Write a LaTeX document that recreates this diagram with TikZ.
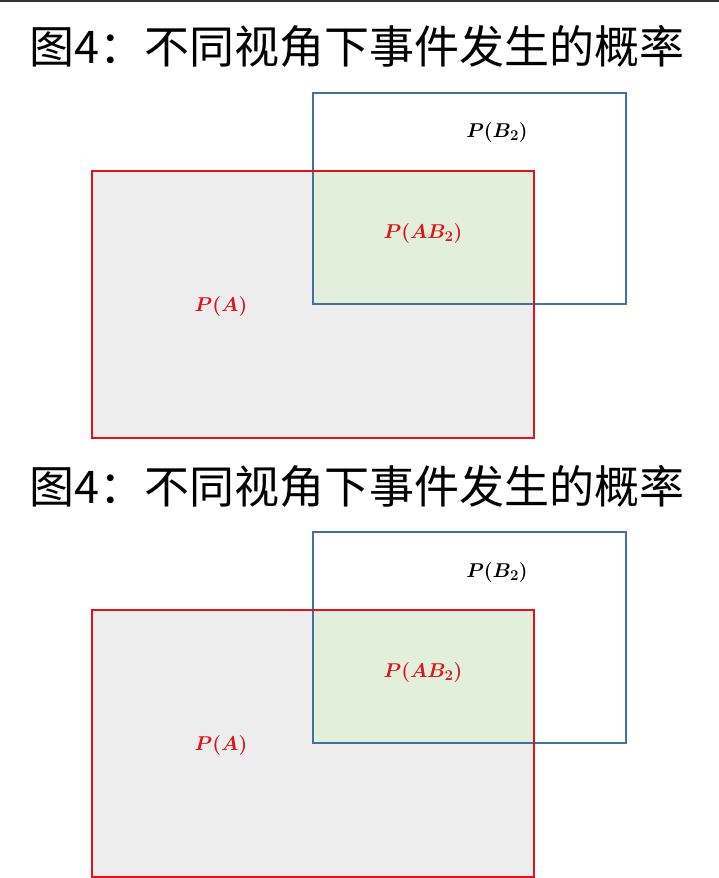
\RequirePackage{fix-cm}
\documentclass[tikz,border=0pt]{standalone}
\usepackage{amsmath}
\usepackage{bm}
\usepackage{fontspec}
\newfontfamily\cjk{Noto Sans CJK SC}
\DeclareMathSizes{20}{20}{15}{12}
\definecolor{boxred}{HTML}{E0121B}
\definecolor{boxblue}{HTML}{41719C}
\definecolor{fillgray}{HTML}{EDEDED}
\definecolor{fillgreen}{HTML}{E2EFDA}
\tikzset{
  title/.style={font=\cjk\fontsize{45}{50}\selectfont, inner sep=0pt},
  prob/.style={font=\fontsize{20}{24}\selectfont, inner sep=0pt},
  boxA/.style={draw=boxred, line width=2.4pt},
  boxB/.style={draw=boxblue, line width=1.8pt}
}
\begin{document}
\begin{tikzpicture}[x=1pt,y=-1pt]
  \useasboundingbox (0,0) rectangle (719,878);
  \draw[black!80, line width=1.5pt] (0,0.75) -- (719,0.75);
  % upper copy
  \node[title] (t1) at (357,46) {图4：不同视角下事件发生的概率};
  \fill[fillgray] (92,171) rectangle (534,438);
  \fill[fillgreen] (313,171) rectangle (534,304);
  \draw[boxB] (313,93) rectangle (626,304);
  \draw[boxA] (92,171) rectangle (534,438);
  \node[prob] (b1) at (497,132) {$\bm{P(B_2)}$};
  \node[prob, text=boxred] (ab1) at (423,233) {$\bm{P(AB_2)}$};
  \node[prob, text=boxred] (a1) at (221,306) {$\bm{P(A)}$};
  % lower copy
  \node[title] (t2) at (357,486) {图4：不同视角下事件发生的概率};
  \fill[fillgray] (92,610) rectangle (534,877);
  \fill[fillgreen] (313,610) rectangle (534,743);
  \draw[boxB] (313,532) rectangle (626,743);
  \draw[boxA] (92,610) rectangle (534,877);
  \node[prob] (b2) at (497,572) {$\bm{P(B_2)}$};
  \node[prob, text=boxred] (ab2) at (423,672) {$\bm{P(AB_2)}$};
  \node[prob, text=boxred] (a2) at (221,745) {$\bm{P(A)}$};
\end{tikzpicture}
\end{document}
